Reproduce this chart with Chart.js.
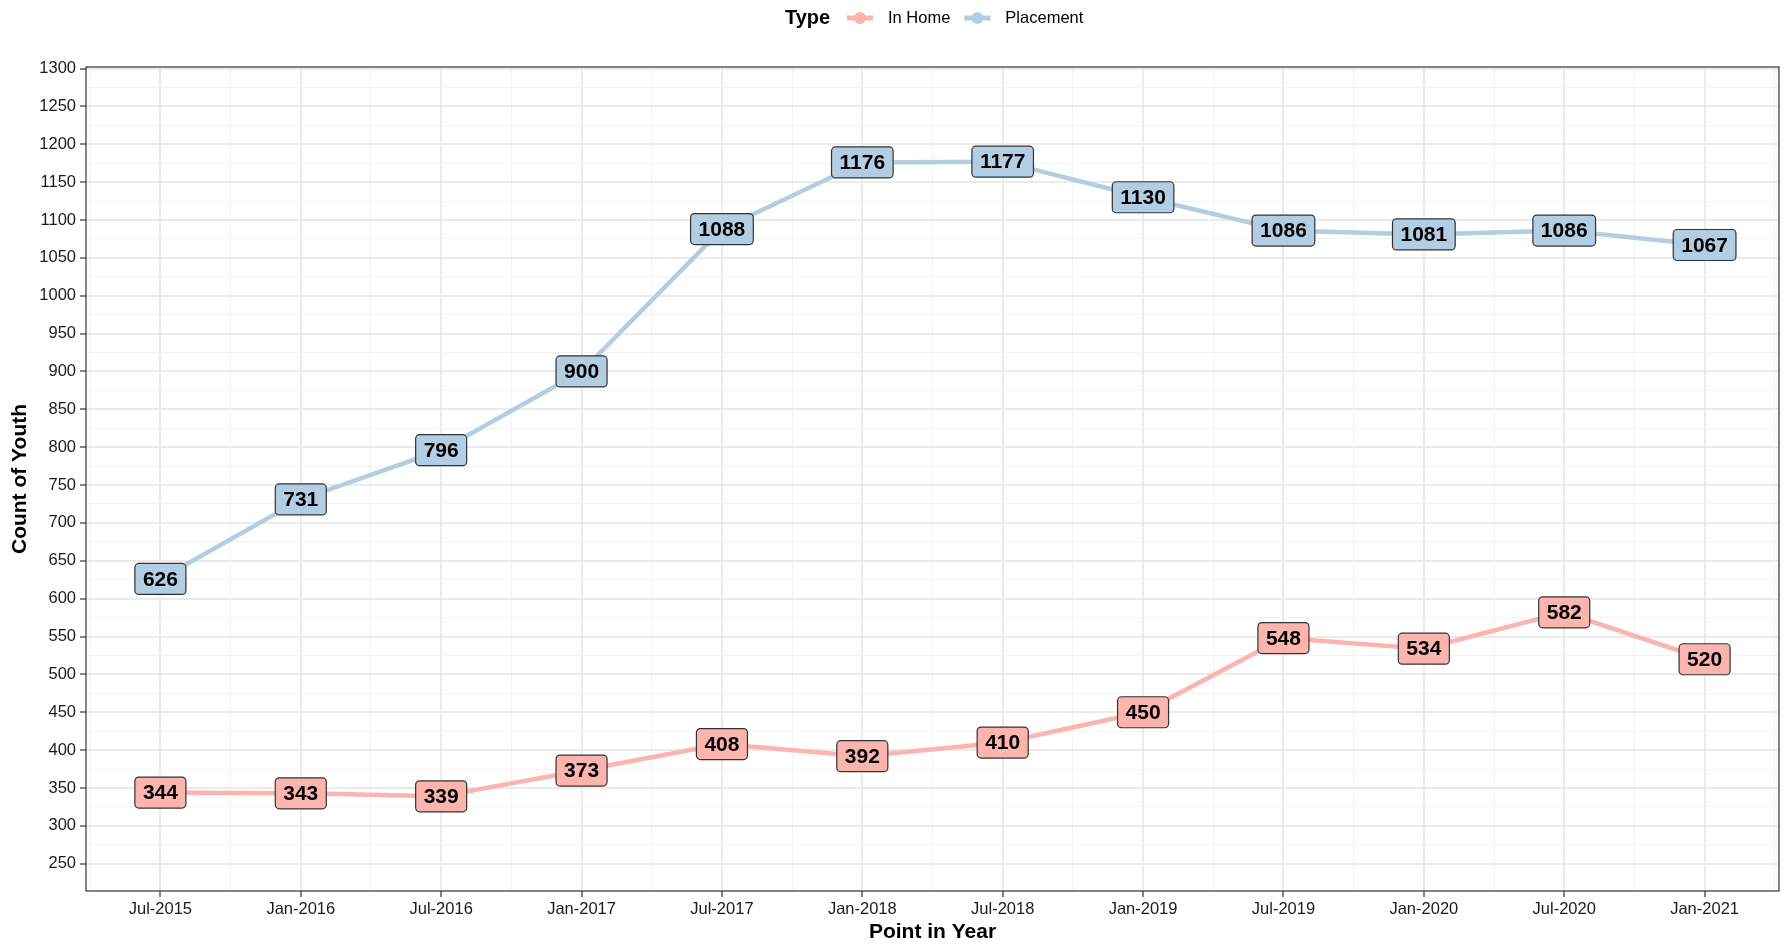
<!DOCTYPE html>
<html>
<head>
<meta charset="utf-8">
<title>Count of Youth by Type</title>
<script src="https://cdn.jsdelivr.net/npm/chart.js@4.4.1/dist/chart.umd.min.js"></script>
<style>
  html, body { margin: 0; padding: 0; background: #fff; }
  canvas { display: block; }
</style>
</head>
<body>
<canvas id="myChart" width="1787" height="945"></canvas>
<script>
// data
const periods = ['Jul-2015', 'Jan-2016', 'Jul-2016', 'Jan-2017', 'Jul-2017', 'Jan-2018',
                 'Jul-2018', 'Jan-2019', 'Jul-2019', 'Jan-2020', 'Jul-2020', 'Jan-2021'];
const inHome = [344, 343, 339, 373, 408, 392, 410, 450, 548, 534, 582, 520];
const placement = [626, 731, 796, 900, 1088, 1176, 1177, 1130, 1086, 1081, 1086, 1067];
const seriesNames = ['In Home', 'Placement'];
const seriesColors = ['#FBB4AE', '#B3CDE3'];
const legendTitle = 'Type';

const FONT = '"Liberation Sans", Arial, sans-serif';
const ctx = document.getElementById('myChart').getContext('2d');

function toPoints(values) {
  return values.map(function (v, i) { return { x: i, y: v }; });
}

// boxed value labels on each point
const labelBoxes = {
  id: 'labelBoxes',
  afterDatasetsDraw(chart) {
    const c = chart.ctx;
    c.save();
    c.font = 'bold 21px ' + FONT;
    c.textAlign = 'center';
    c.textBaseline = 'middle';
    chart.data.datasets.forEach(function (ds, di) {
      const meta = chart.getDatasetMeta(di);
      meta.data.forEach(function (pt, i) {
        const txt = String(ds.data[i].y);
        const w = c.measureText(txt).width + 16;
        const h = 31;
        c.beginPath();
        c.roundRect(pt.x - w / 2, pt.y - h / 2, w, h, 4);
        c.fillStyle = ds.borderColor;
        c.fill();
        c.lineWidth = 1.2;
        c.strokeStyle = '#333333';
        c.stroke();
        c.fillStyle = '#000000';
        c.fillText(txt, pt.x, pt.y + 1);
      });
    });
    c.restore();
  }
};

// panel border + legend at the top
const frameAndLegend = {
  id: 'frameAndLegend',
  afterDraw(chart) {
    const c = chart.ctx;
    const a = chart.chartArea;
    c.save();
    c.strokeStyle = '#333333';
    c.lineWidth = 1.2;
    c.strokeRect(a.left, a.top, a.right - a.left, a.bottom - a.top);

    const y = 18;
    c.textBaseline = 'middle';
    c.textAlign = 'left';
    c.fillStyle = '#000000';
    c.font = 'bold 20px ' + FONT;
    c.fillText(legendTitle, 785, y);
    let x = 847;
    chart.data.datasets.forEach(function (ds) {
      c.strokeStyle = ds.borderColor;
      c.lineWidth = 5;
      c.beginPath();
      c.moveTo(x, y);
      c.lineTo(x + 26, y);
      c.stroke();
      c.fillStyle = ds.borderColor;
      c.beginPath();
      c.arc(x + 13, y, 6, 0, Math.PI * 2);
      c.fill();
      c.fillStyle = '#000000';
      c.font = '16.5px ' + FONT;
      c.fillText(ds.label, x + 41, y);
      x += 41 + c.measureText(ds.label).width + 14;
    });
    c.restore();
  }
};

const chart = new Chart(ctx, {
  type: 'line',
  data: {
    datasets: [
      {
        label: seriesNames[0],
        data: toPoints(inHome),
        borderColor: seriesColors[0],
        backgroundColor: seriesColors[0],
        borderWidth: 4.5,
        pointRadius: 0,
        tension: 0
      },
      {
        label: seriesNames[1],
        data: toPoints(placement),
        borderColor: seriesColors[1],
        backgroundColor: seriesColors[1],
        borderWidth: 4.5,
        pointRadius: 0,
        tension: 0
      }
    ]
  },
  options: {
    responsive: false,
    animation: false,
    devicePixelRatio: 1,
    layout: { padding: { top: 67, right: 8, left: 0, bottom: 0 } },
    plugins: {
      legend: { display: false },
      tooltip: { enabled: false }
    },
    scales: {
      x: {
        type: 'linear',
        min: -0.53,
        max: 11.53,
        afterBuildTicks(scale) {
          const t = [];
          for (let v = -0.5; v <= periods.length - 0.5; v += 0.5) t.push({ value: v });
          scale.ticks = t;
        },
        afterFit(scale) { scale.height = 54; },
        border: { display: false },
        grid: {
          color(c) { return Number.isInteger(c.tick.value) ? '#EBEBEB' : '#F2F2F2'; },
          lineWidth(c) { return Number.isInteger(c.tick.value) ? 2 : 1; },
          tickColor(c) { return Number.isInteger(c.tick.value) ? '#333333' : 'rgba(0,0,0,0)'; },
          tickLength: 6,
          tickWidth: 1.2
        },
        ticks: {
          autoSkip: false,
          maxRotation: 0,
          padding: 3,
          color: '#1a1a1a',
          font: { family: FONT, size: 16.5 },
          callback(v) { return Number.isInteger(v) ? periods[v] : ''; }
        },
        title: {
          display: true,
          text: 'Point in Year',
          color: '#000000',
          font: { family: FONT, size: 21, weight: 'bold' },
          padding: { top: 0, bottom: 0 }
        }
      },
      y: {
        type: 'linear',
        min: 214,
        max: 1302,
        afterBuildTicks(scale) {
          const t = [];
          for (let v = 250; v <= 1300; v += 25) t.push({ value: v });
          scale.ticks = t;
        },
        afterFit(scale) { scale.width = 86; },
        border: { display: false },
        grid: {
          color(c) { return c.tick.value % 50 === 0 ? '#EBEBEB' : '#F2F2F2'; },
          lineWidth(c) { return c.tick.value % 50 === 0 ? 2 : 1; },
          tickColor(c) { return c.tick.value % 50 === 0 ? '#333333' : 'rgba(0,0,0,0)'; },
          tickLength: 6,
          tickWidth: 1.2
        },
        ticks: {
          autoSkip: false,
          padding: 4,
          color: '#1a1a1a',
          font: { family: FONT, size: 16.5 },
          callback(v) { return v % 50 === 0 ? String(v) : ''; }
        },
        title: {
          display: true,
          text: 'Count of Youth',
          color: '#000000',
          font: { family: FONT, size: 21, weight: 'bold' },
          padding: { top: 8, bottom: 0 }
        }
      }
    }
  },
  plugins: [labelBoxes, frameAndLegend]
});
</script>
</body>
</html>
